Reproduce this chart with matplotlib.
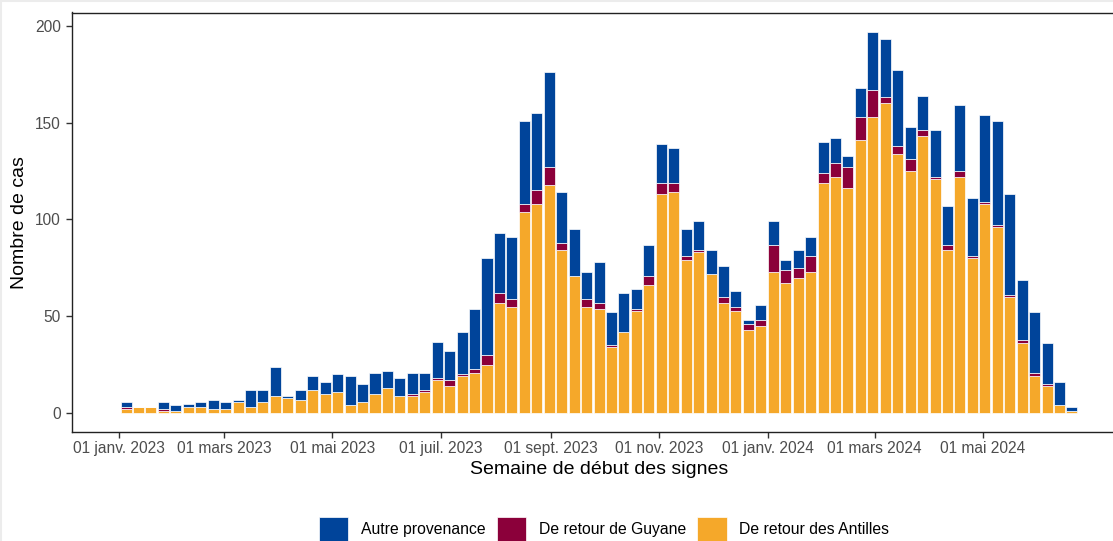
import matplotlib
matplotlib.use("Agg")
import matplotlib.pyplot as plt
import matplotlib.dates as mdates
from matplotlib.lines import Line2D
from matplotlib.patches import Patch
import numpy as np
import pandas as pd

plt.rcParams['font.family'] = ['Liberation Sans', 'DejaVu Sans']

# semaines (centre de semaine, jeudi)
semaines = pd.date_range('2023-01-05', periods=77, freq='7D')

antilles = [2, 3, 3, 1, 1, 3, 3, 2, 2, 6, 3, 6, 9, 8, 7, 12, 10, 11, 4, 6,
            10, 13, 9, 9, 11, 17, 14, 19, 21, 25, 57, 55, 104, 108, 118, 84, 71, 55, 54, 34,
            42, 53, 66, 113, 114, 79, 83, 72, 57, 53, 43, 45, 73, 67, 70, 73, 119, 122, 116, 141,
            153, 160, 134, 125, 143, 121, 84, 122, 80, 108, 96, 60, 36, 19, 14, 4, 1]
guyane = [1, 0, 0, 1, 0, 0, 0, 0, 0, 0, 0, 0, 0, 0, 0, 0, 0, 0, 0, 0,
          0, 0, 0, 1, 1, 1, 3, 1, 2, 5, 5, 4, 4, 7, 9, 4, 0, 4, 3, 1,
          0, 1, 5, 6, 5, 2, 1, 0, 3, 2, 3, 3, 14, 7, 5, 8, 5, 7, 11, 12,
          14, 3, 4, 6, 3, 1, 3, 3, 1, 1, 1, 1, 2, 2, 1, 0, 0]
autre = [3, 0, 0, 4, 3, 2, 3, 5, 4, 1, 9, 6, 15, 1, 5, 7, 6, 9, 15, 9,
         11, 9, 9, 11, 9, 19, 15, 22, 31, 50, 31, 32, 43, 40, 49, 26, 24, 14, 21, 17,
         20, 10, 16, 20, 18, 14, 15, 12, 16, 8, 2, 8, 12, 5, 9, 10, 16, 13, 6, 15,
         30, 30, 39, 17, 18, 24, 20, 34, 30, 45, 54, 52, 31, 31, 21, 12, 2]

tick_dates = ['2023-01-01', '2023-03-01', '2023-05-01', '2023-07-01', '2023-09-01',
              '2023-11-01', '2024-01-01', '2024-03-01', '2024-05-01']
tick_labels = ['01 janv. 2023', '01 mars 2023', '01 mai 2023', '01 juil. 2023', '01 sept. 2023',
               '01 nov. 2023', '01 janv. 2024', '01 mars 2024', '01 mai 2024']

col_autre = '#00449a'
col_guyane = '#8b003a'
col_antilles = '#f5a82a'

fig = plt.figure(figsize=(11.13, 5.41), dpi=100)
ax = fig.add_axes([71.5 / 1113, 1 - 432.3 / 541, (1126 - 71.5) / 1113, (432.3 - 12.5) / 541])

x = mdates.date2num(semaines)
a = np.array(antilles)
g = np.array(guyane)
o = np.array(autre)
w = 6.2
kw = dict(width=w, edgecolor='white', linewidth=0.5)
ax.bar(x, a, color=col_antilles, **kw)
ax.bar(x, g, bottom=a, color=col_guyane, **kw)
ax.bar(x, o, bottom=a + g, color=col_autre, **kw)

j0 = mdates.date2num(pd.Timestamp('2023-01-01'))
ax.set_xlim(j0 - 26.7, j0 + 566.4)
ax.set_ylim(-9.85, 206.85)

ax.set_xticks(mdates.date2num(pd.to_datetime(tick_dates)))
ax.set_xticklabels(tick_labels)
ax.set_yticks([0, 50, 100, 150, 200])
ax.tick_params(axis='both', colors='#333333', labelcolor='#4d4d4d', labelsize=11.2,
               length=4, width=1)
ax.tick_params(axis='x', pad=2)

for s in ['left', 'bottom', 'top']:
    ax.spines[s].set_color('#222222')
    ax.spines[s].set_linewidth(1)
ax.spines['right'].set_visible(False)

ax.set_xlabel('Semaine de début des signes', fontsize=14, color='black')
ax.set_ylabel('Nombre de cas', fontsize=14, color='black')
ax.xaxis.set_label_coords((599 - 71.5) / (1126 - 71.5), -0.068)
ax.yaxis.set_label_coords(-(71.5 - 28) / (1126 - 71.5), 0.5)

handles = [Patch(facecolor=col_autre, edgecolor='white', linewidth=0.5),
           Patch(facecolor=col_guyane, edgecolor='white', linewidth=0.5),
           Patch(facecolor=col_antilles, edgecolor='white', linewidth=0.5)]
fig.legend(handles, ['Autre provenance', 'De retour de Guyane', 'De retour des Antilles'],
           loc='center', bbox_to_anchor=(604 / 1113, 1 - 529 / 541), ncol=3,
           frameon=False, fontsize=11.3, handlelength=1.9, handleheight=2.0,
           handletextpad=0.8, columnspacing=0.7, borderpad=0, borderaxespad=0)

# bord gris clair de la figure
fig.add_artist(Line2D([0.0005, 0.0005], [0, 1], color='#ececec', linewidth=1.5, transform=fig.transFigure))
fig.add_artist(Line2D([0, 1], [0.999, 0.999], color='#ececec', linewidth=1.5, transform=fig.transFigure))

fig.savefig('out.png', dpi=100)
